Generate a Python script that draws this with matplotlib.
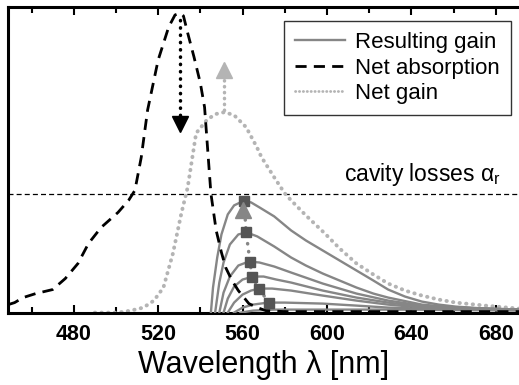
import numpy as np
import matplotlib
matplotlib.use("Agg")
import matplotlib.pyplot as plt

plt.rcParams['font.family'] = ['Liberation Sans', 'DejaVu Sans']

# net absorption (black dashed)
abs_wl = [449, 452, 456, 462, 470, 476, 482, 487, 493, 501, 506, 509, 512, 515,
          520, 525, 528, 530.5, 532, 534, 537, 540, 542, 545, 547.5, 550, 552,
          555, 558, 563, 567, 571, 580, 600, 640, 691]
abs_val = [0.08, 0.10, 0.15, 0.19, 0.23, 0.34, 0.49, 0.69, 0.85, 1.00, 1.12, 1.22,
           1.55, 2.02, 2.52, 2.85, 2.97, 2.99, 2.96, 2.79, 2.55, 2.29, 2.05, 1.19,
           0.82, 0.60, 0.45, 0.32, 0.22, 0.09, 0.05, 0.02, 0.01, 0.01, 0.01, 0.01]

# net gain (gray dotted)
gain_wl = [490, 501, 507, 513, 518, 522.5, 527, 531, 534, 538, 543, 547, 551.4,
           556, 561.7, 566.8, 569, 575, 580, 583, 590, 599, 606, 614, 622, 629,
           637, 645, 653, 661, 675, 691]
gain_val = [0.0, 0.0, 0.02, 0.05, 0.12, 0.25, 0.59, 0.99, 1.25, 1.79, 1.92, 1.98,
            2.00, 1.97, 1.85, 1.65, 1.55, 1.35, 1.19, 1.12, 0.97, 0.79, 0.64, 0.49,
            0.38, 0.29, 0.22, 0.17, 0.13, 0.10, 0.07, 0.04]

# resulting gain curves (gray solid), one per pump level
res_wl = [
    [545, 546, 548, 550, 553, 556, 560, 564, 568, 575, 583, 590, 598, 606, 614,
     622, 629, 637, 645, 653, 661, 675, 691],
    [547, 549, 551, 554, 558, 562, 567, 575, 583, 590, 598, 606, 614, 622, 629,
     645, 661, 691],
    [549, 551, 554, 558, 563, 568, 575, 583, 598, 614, 629, 645, 661, 691],
    [551, 553, 556, 560, 565, 570, 576, 583, 598, 614, 629, 645, 661, 691],
    [553, 556, 560, 564, 568, 574, 583, 598, 614, 629, 645, 661, 691],
    [556, 560, 565, 572, 580, 598, 614, 629, 645, 691],
    [559, 565, 575, 600, 640, 691],
]
res_val = [
    [0.0, 0.25, 0.55, 0.78, 0.98, 1.07, 1.11, 1.10, 1.05, 0.96, 0.82, 0.72, 0.62,
     0.52, 0.42, 0.32, 0.23, 0.16, 0.11, 0.08, 0.06, 0.04, 0.03],
    [0.0, 0.30, 0.50, 0.68, 0.78, 0.80, 0.76, 0.66, 0.55, 0.47, 0.39, 0.32, 0.25,
     0.19, 0.15, 0.08, 0.05, 0.03],
    [0.0, 0.20, 0.36, 0.47, 0.51, 0.50, 0.46, 0.40, 0.29, 0.19, 0.12, 0.07, 0.05, 0.03],
    [0.0, 0.14, 0.26, 0.33, 0.36, 0.36, 0.33, 0.30, 0.22, 0.15, 0.10, 0.06, 0.04, 0.03],
    [0.0, 0.10, 0.18, 0.22, 0.24, 0.24, 0.22, 0.17, 0.12, 0.08, 0.05, 0.04, 0.03],
    [0.0, 0.05, 0.08, 0.10, 0.10, 0.09, 0.07, 0.05, 0.04, 0.03],
    [0.0, 0.02, 0.03, 0.03, 0.03, 0.02],
]

# peak markers of the resulting gain curves
peak_wl = [560.7, 561.7, 563.5, 564.5, 567.8, 572.4]
peak_val = [1.11, 0.80, 0.51, 0.36, 0.24, 0.10]

cavity_loss = 1.18

fig = plt.figure(figsize=(5.19, 3.85), dpi=100)
ax = fig.add_axes([0.016, 0.188, 0.984, 0.794])

gray = '#868686'
light = '#b4b4b4'

for wl, val in zip(res_wl, res_val):
    ax.plot(wl, val, color=gray, lw=1.7, zorder=3)

ax.plot(abs_wl, abs_val, color='black', lw=2.0, dashes=(4, 2.6), zorder=4)
ax.plot(gain_wl, gain_val, color=light, lw=2.8, linestyle=(0, (0.1, 1.6)),
        dash_capstyle='round', zorder=2)

ax.axhline(cavity_loss, color='black', lw=0.9, dashes=(4, 2.5), zorder=1)

# dotted line through the peaks, arrow to the lasing threshold
ax.plot(peak_wl[::-1] + [560.0], peak_val[::-1] + [1.02], color=gray, lw=2.5,
        linestyle=(0, (0.1, 2.2)), dash_capstyle='round', zorder=3)
ax.plot(peak_wl, peak_val, 's', color='#555555', ms=7, zorder=5)
ax.plot([560.0], [1.02], '^', color=gray, ms=11, zorder=5)

# arrows at the absorption / gain peaks
ax.plot([530.3, 530.3], [2.92, 1.95], color='black', lw=2.5,
        linestyle=(0, (0.1, 2.0)), dash_capstyle='round', zorder=4)
ax.plot([530.3], [1.88], 'v', color='black', ms=12, zorder=5)
ax.plot([551.4, 551.4], [2.02, 2.36], color=light, lw=2.5,
        linestyle=(0, (0.1, 1.6)), dash_capstyle='round', zorder=4)
ax.plot([551.4], [2.42], '^', color=light, ms=12, zorder=5)

ax.text(608, cavity_loss + 0.06, r'cavity losses $\mathregular{α_r}$',
        fontsize=16.5, ha='left', va='bottom')

# legend
h1, = ax.plot([], [], color=gray, lw=1.7)
h2, = ax.plot([], [], color='black', lw=2.0, dashes=(4, 2.6))
h3, = ax.plot([], [], color=light, lw=2.0, linestyle=(0, (0.1, 1.3)),
              dash_capstyle='round')
leg = ax.legend([h1, h2, h3], ['Resulting gain', 'Net absorption', 'Net gain'],
                loc='upper right', bbox_to_anchor=(0.984, 0.954), fontsize=16,
                frameon=True, fancybox=False, edgecolor='black',
                handlelength=2.25, handletextpad=0.45, labelspacing=0.2,
                borderpad=0.5, borderaxespad=0.0)
leg.get_frame().set_linewidth(1.0)

ax.set_xlim(449, 691)
ax.set_ylim(0, 3.05)
ax.set_xticks([480, 520, 560, 600, 640, 680])
ax.set_xticks([460, 500, 540, 580, 620, 660], minor=True)
ax.set_yticks([])
ax.tick_params(axis='x', which='both', direction='in', top=True, width=1.5,
               labelsize=15.5, pad=8)
ax.tick_params(axis='x', which='major', length=6)
ax.tick_params(axis='x', which='minor', length=4)
for lab in ax.get_xticklabels():
    lab.set_fontweight('bold')
for s in ['left', 'bottom', 'top']:
    ax.spines[s].set_linewidth(2.2)
ax.spines['right'].set_visible(False)

ax.set_xlabel('Wavelength λ [nm]', fontsize=22, labelpad=4)

fig.savefig('out.png', dpi=100)
